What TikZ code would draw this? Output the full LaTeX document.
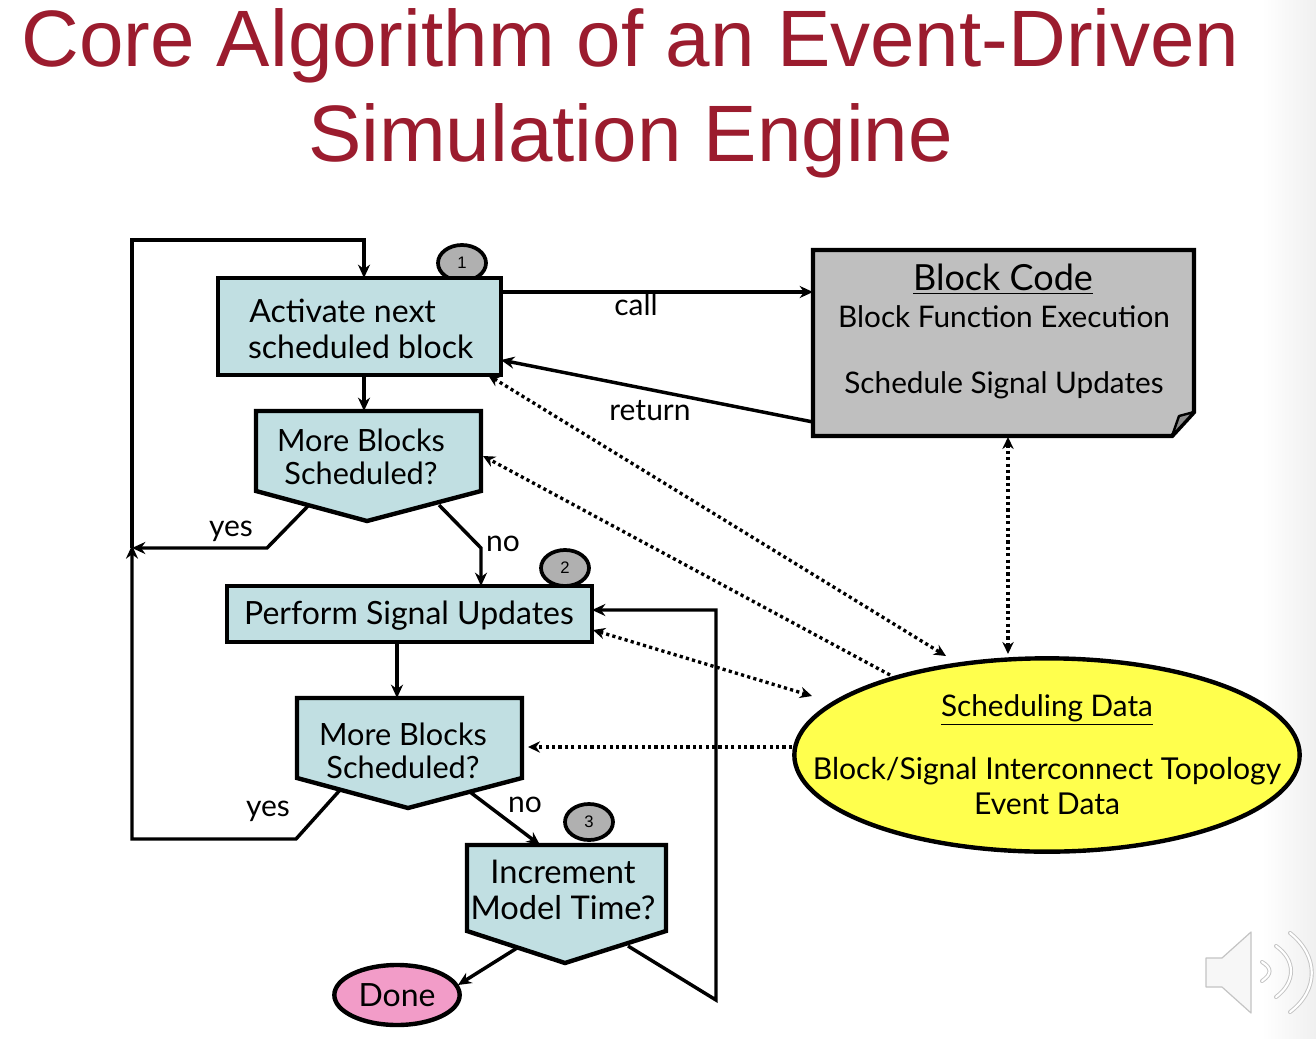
\documentclass[tikz,border=0pt]{standalone}
\usepackage{fontspec}
\setmainfont{Lato}
\newfontfamily\titlefont{Liberation Sans}
\usetikzlibrary{arrows.meta,calc,shapes.geometric}
\definecolor{boxblue}{HTML}{C1DFE2}
\definecolor{titlered}{HTML}{9B1C2E}
\definecolor{notegray}{HTML}{BFBFBF}
\definecolor{badgegray}{HTML}{B0B0B0}
\definecolor{dbyellow}{HTML}{FFFF4D}
\definecolor{donepink}{HTML}{F29CC8}
\definecolor{iconline}{HTML}{C4C4C4}
\tikzset{
  x=0.75pt,y=-0.75pt,
  every node/.style={inner sep=0pt,outer sep=0pt},
  outl/.style={draw=black,line width=3.3pt,line join=miter},
  flowbox/.style={outl,fill=boxblue},
  flowtext/.style={align=center,font=\fontsize{24}{27}\selectfont},
  dectext/.style={align=center,font=\fontsize{23}{24.75}\selectfont},
  notetext/.style={align=center,font=\fontsize{22.3}{24.75}\selectfont},
  lbl/.style={font=\fontsize{22.5}{24}\selectfont},
  badge/.style={ellipse,draw=black,line width=2.8pt,fill=badgegray,minimum width=36pt,minimum height=27pt,font=\titlefont\fontsize{12.5}{14}\selectfont},
  conn/.style={draw=black,line width=2.6pt,line join=miter},
  arr/.style={conn,-{Stealth[length=10pt,width=9pt]}},
  dotconn/.style={draw=black,line width=2.5pt,dash pattern=on 2.4pt off 2.4pt},
  dotone/.style={dotconn,-{Stealth[length=9pt,width=8.5pt]}},
  dotboth/.style={dotconn,{Stealth[length=9pt,width=8.5pt]}-{Stealth[length=9pt,width=8.5pt]}},
  icon/.style={draw=iconline,line width=0.9pt,fill=white!97!black,line join=round},
  iconarc/.style={double=white,double distance=1.6pt,draw=iconline,line width=0.7pt,line cap=round},
  titletext/.style={text=titlered,font=\titlefont\fontsize{60}{71}\selectfont,align=center}
}
\begin{document}
\begin{tikzpicture}
\useasboundingbox (0,0) rectangle (1316,1038);
\fill[white] (0,0) rectangle (1316,1038);
\shade[left color=white,right color=black!6] (1262,0) rectangle (1316,1038);

% title
\node[titletext] (title) at (630.5,93) {Core Algorithm of an Event-Driven\\Simulation Engine};

% badges
\node[badge] (b1) at (462,263) {1};
\node[badge] (b2) at (565,568) {2};
\node[badge] (b3) at (589,822) {3};

% boxes
\node[flowbox,minimum width=212.25pt,minimum height=72.75pt] (act) at (359.5,326.5) {};
\node[flowbox,minimum width=273.75pt,minimum height=42pt] (sig) at (409.5,614) {};
\node[flowtext,align=left,anchor=west] (acttxt) at (248,329) {\hspace*{1pt}Activate next\\scheduled block};
\node[flowtext] (sigtxt) at (409,616) {Perform Signal Updates};

% decision pentagons
\draw[flowbox] (256,411) coordinate (d1tl) -- (481,411) -- (481,491) -- (367,521) -- (256,491) -- cycle;
\draw[flowbox] (297,698) coordinate (d2tl) -- (522,698) -- (522,778) -- (408,808) -- (297,778) -- cycle;
\draw[flowbox] (467,845) coordinate (d3tl) -- (666,845) -- (666,931) -- (565,963) -- (467,931) -- cycle;
\node[dectext] (d1txt) at (361,457) {More Blocks\\Scheduled?};
\node[dectext] (d2txt) at (403,751) {More Blocks\\Scheduled?};
\node[flowtext,font=\fontsize{24.5}{26.5}\selectfont] (d3txt) at (563,890) {Increment\\Model Time?};

% done
\node[ellipse,outl,fill=donepink,minimum width=94pt,minimum height=45pt,font=\fontsize{24}{27}\selectfont] (done) at (397,995) {Done};

% block code note
\draw[outl,fill=notegray] (813,250) -- (1194,250) -- (1194,412) -- (1172,436) -- (813,436) -- cycle;
\draw[draw=black,line width=1.8pt,fill=black!45,line join=round] (1194,412) -- (1179,416) -- (1172,436) -- cycle;
\path (813,250) coordinate (notetl) (1194,436) coordinate (notebr);
\node[font=\fontsize{27}{30}\selectfont] (codehead) at (1003,279) {\underline{Block Code}};
\node[notetext] (codetxt) at (1004,352) {Block Function Execution\\[24.75pt]Schedule Signal Updates};

% data ellipse
\node[ellipse,outl,fill=dbyellow,minimum width=379pt,minimum height=145pt] (data) at (1047,755) {};
\node[notetext] (datahead) at (1047,710) {\underline{Scheduling Data}};
\node[notetext,font=\fontsize{22.6}{26}\selectfont] (datatxt) at (1047,786) {Block/Signal Interconnect Topology\\Event Data};

% solid connectors
\coordinate (topturn) at (132,240);
\coordinate (topin) at (364,240);
\coordinate (mergeleft) at (132,548);
\coordinate (yes1a) at (308,506);
\coordinate (yes1b) at (267,548);
\coordinate (no1a) at (439,505);
\coordinate (no1b) at (481,548);
\coordinate (yes2a) at (340,790);
\coordinate (yes2b) at (296,839);
\coordinate (yes2c) at (132,839);
\coordinate (no2a) at (470,792);
\coordinate (no2b) at (540,845);
\coordinate (d1top) at (364,411);
\coordinate (d2top) at (397,698);
\coordinate (d3done) at (517,948);
\coordinate (doneR) at (458,985);
\coordinate (d3out) at (628,946);
\coordinate (loopb) at (716,1000);
\coordinate (loopt) at (716,610);

\draw[arr] (mergeleft) -- (topturn) -- (topin) -- (topin |- act.north);
\draw[arr] (topin |- act.south) -- (d1top);
\draw[arr] (yes1a) -- (yes1b) -- (mergeleft);
\draw[arr] (no1a) -- (no1b) -- (no1b |- sig.north);
\draw[arr] (d2top |- sig.south) -- (d2top);
\draw[arr] (yes2a) -- (yes2b) -- (yes2c) -- ([yshift=2pt]mergeleft);
\draw[arr] (no2a) -- (no2b);
\draw[arr] (d3done) -- (doneR);
\draw[arr] (d3out) -- (loopb) -- (loopt) -- (loopt -| sig.east);
\coordinate (callin) at (813,292);
\coordinate (retout) at (813,422);
\coordinate (retin) at (501,360);
\draw[arr] (callin -| act.east) -- (callin);
\draw[arr] (retout) -- (retin);

% dotted connectors
\coordinate (dNote) at (1008,437);
\coordinate (dData) at (1008,654);
\coordinate (dAct) at (488,375);
\coordinate (dDataA) at (946,656);
\coordinate (dD1) at (483,456);
\coordinate (dDataB) at (890,675);
\coordinate (dSig) at (593,630);
\coordinate (dSigR) at (812,696);
\coordinate (dDataC) at (792,747);
\coordinate (dD2) at (528,747);
\draw[dotboth] (dNote) -- (dData);
\draw[dotboth] (dAct) -- (dDataA);
\draw[dotone] (dDataB) -- (dD1);
\draw[dotboth] (dSig) -- (dSigR);
\draw[dotone] (dDataC) -- (dD2);

% labels
\node[lbl] (call) at (636,305) {call};
\node[lbl] (ret) at (650,411) {return};
\node[lbl] (yes1) at (231,531) {yes};
\node[lbl] (no1) at (503,544) {no};
\node[lbl] (yes2) at (268,811) {yes};
\node[lbl] (no2) at (525,805) {no};

% speaker icon
\draw[icon] (1206,958) -- (1222,958) -- (1251,932) -- (1251,1013) -- (1222,987) -- (1206,987) -- cycle;
\draw[iconarc] (1262,962) .. controls (1272,968) and (1272,974) .. (1262,981);
\draw[iconarc] (1276,946) .. controls (1296,960) and (1296,982) .. (1276,997);
\draw[iconarc] (1290,933) .. controls (1319,956) and (1319,990) .. (1290,1012);
\end{tikzpicture}
\end{document}
